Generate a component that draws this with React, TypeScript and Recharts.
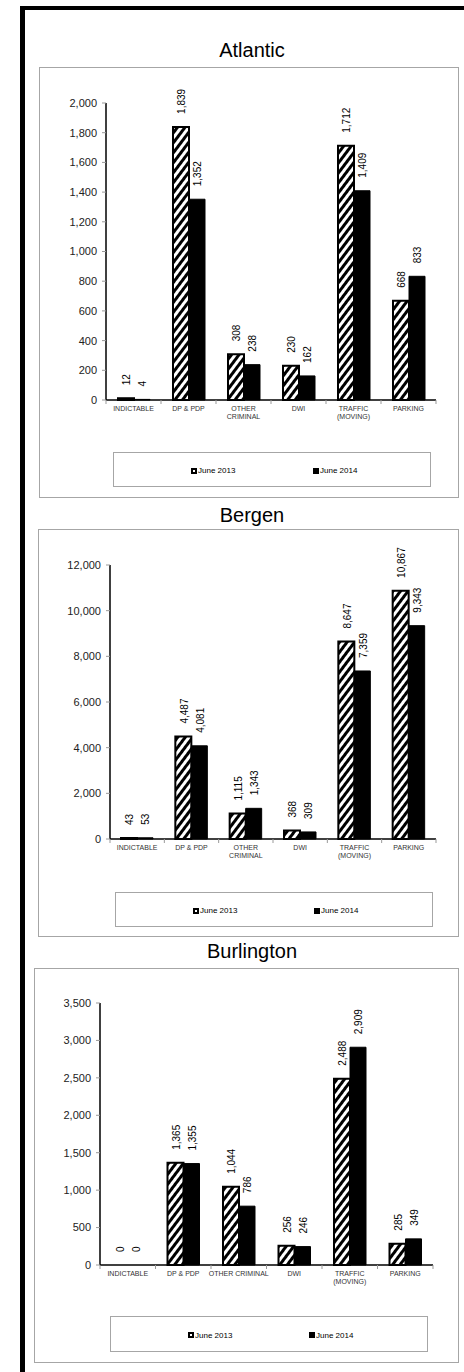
import { BarChart, Bar, XAxis, YAxis, LabelList, Rectangle } from "recharts";

const FONT = '"Liberation Sans", Arial, Helvetica, sans-serif';

// categories and series
const categories = ["INDICTABLE", "DP & PDP", "OTHER CRIMINAL", "DWI", "TRAFFIC (MOVING)", "PARKING"];
const linesNarrow = [["INDICTABLE"], ["DP & PDP"], ["OTHER", "CRIMINAL"], ["DWI"], ["TRAFFIC", "(MOVING)"], ["PARKING"]];
const linesWide = [["INDICTABLE"], ["DP & PDP"], ["OTHER CRIMINAL"], ["DWI"], ["TRAFFIC", "(MOVING)"], ["PARKING"]];

const atlantic2013 = [12, 1839, 308, 230, 1712, 668];
const atlantic2014 = [4, 1352, 238, 162, 1409, 833];
const bergen2013 = [43, 4487, 1115, 368, 8647, 10867];
const bergen2014 = [53, 4081, 1343, 309, 7359, 9343];
const burlington2013 = [0, 1365, 1044, 256, 2488, 285];
const burlington2014 = [0, 1355, 786, 246, 2909, 349];

const atlanticTicks = [0, 200, 400, 600, 800, 1000, 1200, 1400, 1600, 1800, 2000];
const bergenTicks = [0, 2000, 4000, 6000, 8000, 10000, 12000];
const burlingtonTicks = [0, 500, 1000, 1500, 2000, 2500, 3000, 3500];

const seriesNames = ["June 2013", "June 2014"];

const fmt = (v: number) => Number(v).toLocaleString("en-US");

const VLabel = (p: any) => {
  const cx = Number(p.x) + Number(p.width) / 2 + 1;
  const ty = Number(p.y) - 13;
  return (
    <text
      x={cx}
      y={ty}
      transform={`rotate(-90 ${cx} ${ty})`}
      textAnchor="start"
      dominantBaseline="central"
      fontSize={10}
      fontFamily={FONT}
      fill="#000"
    >
      {fmt(p.value)}
    </text>
  );
};

// zero-value bars keep their label but draw nothing
const BarShape = (props: any) => (Number(props.height) > 0.5 ? <Rectangle {...props} /> : <g />);

const CatTick = ({ x, y, payload, lines, bw }: any) => {
  const idx = categories.indexOf(payload.value);
  const ls = lines[idx] ?? [payload.value];
  return (
    <g>
      <line x1={x - bw / 2} x2={x - bw / 2} y1={y} y2={y + 4} stroke="#999" />
      {idx === categories.length - 1 && <line x1={x + bw / 2} x2={x + bw / 2} y1={y} y2={y + 4} stroke="#999" />}
      {ls.map((t: string, i: number) => (
        <text
          key={i}
          x={x}
          y={y + 8 + i * 8}
          textAnchor="middle"
          dominantBaseline="central"
          fontSize={7}
          fontFamily={FONT}
          fill="#333"
        >
          {t}
        </text>
      ))}
    </g>
  );
};

type Panel = {
  id: string;
  title: string;
  titleTop: number;
  box: { x: number; y: number; w: number; h: number };
  plot: { left: number; top: number; right: number; bottom: number };
  ticks: number[];
  lines: string[][];
  a: number[];
  b: number[];
  legend: { x: number; y: number; w: number; h: number; m1: number; m2: number };
};

const panels: Panel[] = [
  {
    id: "atl",
    title: "Atlantic",
    titleTop: 40,
    box: { x: 39, y: 67, w: 420, h: 431 },
    plot: { left: 106, top: 103, right: 436, bottom: 400 },
    ticks: atlanticTicks,
    lines: linesNarrow,
    a: atlantic2013,
    b: atlantic2014,
    legend: { x: 113, y: 452, w: 318, h: 35, m1: 191, m2: 313 },
  },
  {
    id: "ber",
    title: "Bergen",
    titleTop: 505,
    box: { x: 38, y: 529, w: 421, h: 408 },
    plot: { left: 110, top: 565, right: 436, bottom: 839 },
    ticks: bergenTicks,
    lines: linesNarrow,
    a: bergen2013,
    b: bergen2014,
    legend: { x: 115, y: 892, w: 318, h: 35, m1: 193, m2: 314 },
  },
  {
    id: "bur",
    title: "Burlington",
    titleTop: 941,
    box: { x: 34, y: 968, w: 425, h: 395 },
    plot: { left: 100, top: 1003, right: 433, bottom: 1265 },
    ticks: burlingtonTicks,
    lines: linesWide,
    a: burlington2013,
    b: burlington2014,
    legend: { x: 110, y: 1316, w: 318, h: 36, m1: 188, m2: 309 },
  },
];

function ChartPanel({ p }: { p: Panel }) {
  const data = categories.map((c, i) => ({ name: c, y2013: p.a[i], y2014: p.b[i] }));
  const innerX = p.box.x + 1;
  const innerY = p.box.y + 1;
  const width = p.box.w - 2;
  const yAxisW = p.plot.left - innerX;
  const marginTop = p.plot.top - innerY;
  const marginRight = innerX + width - p.plot.right;
  const height = p.plot.bottom - innerY + 30;
  const bw = (p.plot.right - p.plot.left) / categories.length;
  const hatchId = `hatch-${p.id}`;
  const lg = p.legend;

  return (
    <>
      <div
        style={{
          position: "absolute",
          left: 152,
          top: p.titleTop,
          width: 200,
          textAlign: "center",
          fontFamily: FONT,
          fontSize: 20,
          lineHeight: "20px",
          color: "#000",
        }}
      >
        {p.title}
      </div>
      <div
        style={{
          position: "absolute",
          left: p.box.x,
          top: p.box.y,
          width: p.box.w,
          height: p.box.h,
          border: "1px solid #a6a6a6",
          boxSizing: "border-box",
        }}
      />
      <div style={{ position: "absolute", left: innerX, top: innerY }}>
        <BarChart
          width={width}
          height={height}
          data={data}
          barGap={0}
          margin={{ top: marginTop, right: marginRight, bottom: 0, left: 0 }}
        >
          <defs>
            <pattern id={hatchId} patternUnits="userSpaceOnUse" width={6} height={6} patternTransform="rotate(37)">
              <rect width={6} height={6} fill="#fff" />
              <rect width={3} height={6} fill="#000" />
            </pattern>
          </defs>
          <XAxis
            dataKey="name"
            height={30}
            axisLine={{ stroke: "#000", strokeWidth: 1.5 }}
            tickLine={false}
            tickSize={0}
            tickMargin={0}
            interval={0}
            tick={(t: any) => <CatTick {...t} lines={p.lines} bw={bw} />}
          />
          <YAxis
            width={yAxisW}
            domain={[0, p.ticks[p.ticks.length - 1]]}
            ticks={p.ticks}
            interval={0}
            axisLine={{ stroke: "#000", strokeWidth: 1.5 }}
            tickLine={{ stroke: "#999" }}
            tickSize={4}
            tickMargin={5}
            tickFormatter={fmt}
            tick={{ fontSize: 11, fill: "#222", fontFamily: FONT }}
          />
          <Bar
            dataKey="y2013"
            fill={`url(#${hatchId})`}
            stroke="#000"
            strokeWidth={2}
            barSize={16}
            minPointSize={0.01}
            shape={BarShape}
            isAnimationActive={false}
          >
            <LabelList dataKey="y2013" content={VLabel} />
          </Bar>
          <Bar
            dataKey="y2014"
            fill="#000"
            stroke="#000"
            strokeWidth={1}
            barSize={16}
            minPointSize={0.01}
            shape={BarShape}
            isAnimationActive={false}
          >
            <LabelList dataKey="y2014" content={VLabel} />
          </Bar>
        </BarChart>
      </div>
      <div
        style={{
          position: "absolute",
          left: lg.x,
          top: lg.y,
          width: lg.w,
          height: lg.h,
          border: "1px solid #a6a6a6",
          boxSizing: "border-box",
          fontFamily: FONT,
          fontSize: 8,
          color: "#000",
        }}
      >
        {[lg.m1, lg.m2].map((m, i) => (
          <div
            key={i}
            style={{
              position: "absolute",
              left: m - lg.x - 1,
              top: lg.h / 2 - 5,
              height: 10,
              display: "flex",
              alignItems: "center",
              whiteSpace: "nowrap",
            }}
          >
            <span
              style={{
                display: "inline-block",
                width: 6,
                height: 6,
                boxSizing: "border-box",
                background: i === 0 ? "#fff" : "#000",
                border: i === 0 ? "2px solid #000" : "none",
                marginRight: 1,
              }}
            />
            {seriesNames[i]}
          </div>
        ))}
      </div>
    </>
  );
}

export default function App() {
  return (
    <div style={{ position: "absolute", left: 0, top: 0, width: 464, height: 1372, overflow: "hidden", background: "#fff" }}>
      <div
        style={{
          position: "absolute",
          left: 20,
          top: 6,
          width: 480,
          height: 1400,
          borderLeft: "5px solid #000",
          borderTop: "4px solid #000",
        }}
      />
      {panels.map((p) => (
        <ChartPanel key={p.id} p={p} />
      ))}
    </div>
  );
}
